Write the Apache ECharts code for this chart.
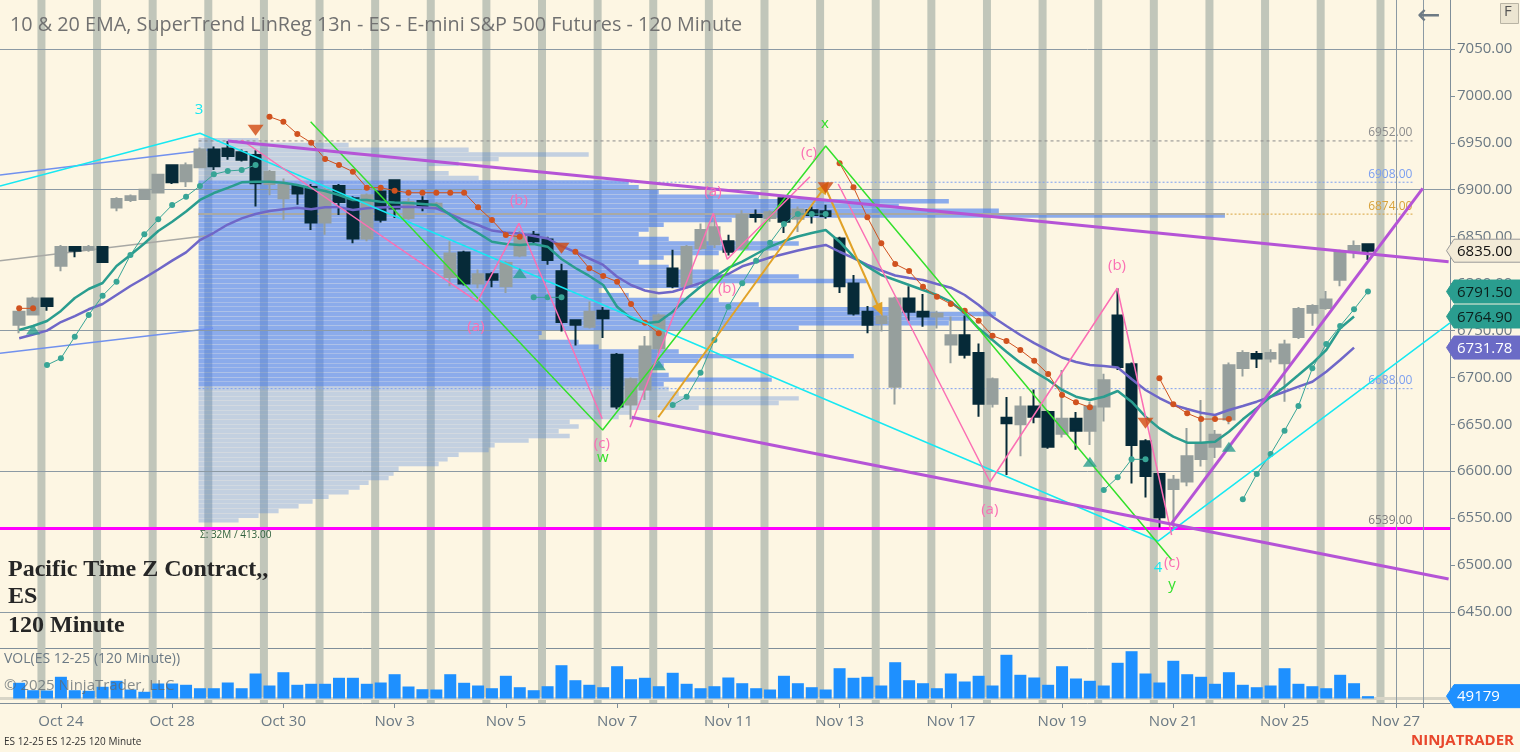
<!DOCTYPE html>
<html lang="en">
<head>
<meta charset="UTF-8">
<title>ES 12-25 120 Minute</title>
<script src="https://cdn.jsdelivr.net/npm/echarts@6.0.0/dist/echarts.min.js"></script>
<style>
  html, body { margin: 0; padding: 0; background: #fdf6e3; }
  #main { width: 1520px; height: 752px; }
</style>
</head>
<body>
<div id="main"></div>
<script>
// ---------- data (bar index k = one 120 minute bar) ----------
var dates = ['Oct 24', 'Oct 28', 'Oct 30', 'Nov 3', 'Nov 5', 'Nov 7', 'Nov 11', 'Nov 13', 'Nov 17', 'Nov 19', 'Nov 21', 'Nov 25', 'Nov 27'];
var dateTickBars = [3, 11, 19, 27, 35, 43, 51, 59, 67, 75, 83, 91, 99];
var extraTickBars = [101];
var priceTicks = [6450, 6500, 6550, 6600, 6650, 6700, 6750, 6800, 6850, 6900, 6950, 7000, 7050];
var gridLevels = [6450, 6600, 6750, 6900, 7050];
var sessionBreaks = [1.6, 5.6, 9.6, 13.6, 17.6, 21.6, 25.6, 29.6, 33.6, 37.6, 41.6, 45.6, 49.6, 53.6, 57.6, 61.6, 65.6, 69.6, 73.6, 77.6, 81.6, 85.6, 89.6, 93.6, 97.9];

var opens = [6756,6767,6784,6819,6839,6836,6839,6881,6889,6890, 6897,6926,6909,6924,6943,6944,6940,6937,6906,6891,
  6904,6903,6865,6904,6891,6848,6898,6910,6870,6888, 6880,6807,6833,6800,6810,6797,6830,6852,6847,6813,
  6761,6754,6771,6724,6671,6687,6731,6816,6797,6838, 6842,6845,6838,6873,6870,6891,6869,6878,6877,6848,
  6800,6770,6758,6690,6784,6770,6765,6735,6745,6726, 6672,6657,6650,6669,6663,6640,6656,6643,6669,6766,
  6714,6632,6597,6581,6589,6613,6626,6655,6710,6725, 6720,6715,6743,6769,6774,6804,6835,6842];
var highs = [6772,6786,6785,6841,6840,6841,6840,6892,6895,6901, 6917,6927,6929,6945,6946,6952,6943,6942,6921,6912,
  6906,6906,6902,6906,6893,6896,6900,6911,6891,6893, 6887,6845,6835,6815,6812,6824,6856,6856,6850,6821,
  6762,6781,6775,6726,6700,6744,6768,6836,6841,6864, 6873,6852,6878,6879,6878,6893,6882,6882,6884,6850,
  6809,6776,6767,6786,6797,6789,6771,6765,6766,6736, 6700,6679,6680,6687,6665,6708,6663,6674,6704,6795,
  6716,6634,6598,6596,6646,6676,6644,6716,6729,6728, 6730,6740,6775,6778,6792,6836,6846,6843];
var lows = [6747,6766,6771,6813,6828,6834,6822,6877,6887,6889, 6896,6906,6903,6923,6921,6932,6930,6882,6894,6868,
  6884,6857,6852,6873,6843,6845,6865,6870,6868,6877, 6879,6797,6798,6795,6796,6790,6828,6843,6820,6749,
  6734,6752,6742,6666,6655,6676,6726,6795,6795,6836, 6838,6830,6836,6865,6866,6854,6855,6864,6869,6790,
  6766,6747,6749,6671,6760,6754,6752,6715,6720,6658, 6668,6596,6616,6651,6624,6636,6623,6628,6653,6708,
  6587,6572,6540,6539,6584,6605,6614,6650,6701,6710, 6716,6674,6741,6755,6772,6797,6827,6825];
var closes = [6770,6784,6776,6839,6835,6839,6823,6890,6893,6900, 6916,6908,6926,6943,6925,6936,6932,6907,6919,6905,
  6896,6865,6898,6887,6848,6894,6868,6880,6887,6883, 6885,6832,6800,6810,6804,6822,6851,6845,6825,6759,
  6756,6770,6763,6669,6698,6733,6766,6797,6839,6857, 6860,6834,6873,6871,6876,6866,6879,6873,6872,6797,
  6768,6756,6765,6784,6770,6765,6768,6745,6724,6672, 6698,6651,6669,6658,6626,6656,6643,6669,6697,6711,
  6628,6595,6551,6591,6616,6630,6639,6713,6726,6720, 6726,6735,6773,6776,6783,6834,6840,6835];
var volumes = [330000,174000,168000,456000,174000,162000,246000,372000,189000,141000,
  315000,315000,288000,216000,216000,336000,216000,525000,273000,552000,
  288000,309000,309000,435000,435000,309000,336000,510000,252000,195000,
  189000,510000,330000,273000,216000,477000,237000,174000,258000,699000,
  384000,288000,237000,678000,405000,435000,258000,540000,309000,216000,
  258000,441000,321000,216000,189000,477000,321000,237000,189000,636000,
  435000,456000,273000,762000,384000,321000,216000,525000,357000,477000,
  273000,918000,498000,441000,288000,678000,420000,372000,273000,750000,
  993000,525000,336000,792000,510000,456000,309000,552000,288000,237000,
  273000,636000,309000,258000,216000,498000,321000,49179];

var ema10 = [6750.5,6754.8,6760.1,6770.8,6784.6,6794.2,6800.6,6818.7,6830.5,6842.7,
  6856.0,6865.9,6876.8,6889.1,6896.5,6901.9,6907.9,6908.6,6908.6,6907.5,
  6905.0,6901.5,6898.6,6894.4,6889.1,6889.1,6887.2,6886.4,6885.9,6884.8,
  6883.7,6873.1,6862.4,6853.9,6844.6,6842.2,6841.1,6842.2,6839.3,6826.2,
  6816.6,6808.1,6798.5,6775.3,6763.0,6757.6,6759.3,6770.0,6784.3,6796.6,
  6807.3,6816.6,6823.3,6831.5,6839.3,6845.3,6850.1,6853.9,6857.1,6844.6,
  6828.6,6818.0,6809.1,6803.8,6798.5,6793.1,6787.8,6780.7,6768.3,6752.3,
  6739.8,6727.4,6715.7,6706.1,6697.2,6686.6,6679.4,6675.9,6679.4,6685.5,
  6674.1,6658.1,6645.7,6636.8,6630.4,6630.4,6631.5,6642.1,6655.3,6667.1,
  6679.4,6690.1,6702.5,6715.0,6729.2,6752.3,6764.9];
var ema20 = [6741.7,6745.7,6749.8,6759.0,6765.4,6772.6,6778.2,6787.8,6797.4,6805.9,
  6815.0,6824.4,6833.3,6846.4,6854.1,6862.9,6869.5,6874.1,6877.3,6879.1,
  6880.8,6879.1,6881.3,6881.3,6878.4,6880.2,6881.1,6881.6,6881.9,6881.1,
  6880.2,6874.1,6867.4,6862.4,6856.5,6854.4,6853.3,6850.7,6848.0,6840.0,
  6833.6,6826.7,6819.8,6807.3,6798.5,6792.6,6789.6,6791.3,6795.8,6800.6,
  6805.4,6810.2,6818.4,6823.0,6827.8,6831.5,6835.2,6838.4,6841.1,6833.9,
  6827.2,6819.8,6813.9,6808.6,6805.9,6803.8,6799.5,6795.6,6787.8,6777.1,
  6764.7,6754.8,6745.2,6736.6,6728.7,6721.2,6716.4,6713.2,6712.1,6710.5,
  6698.3,6686.6,6678.0,6670.6,6666.3,6662.4,6659.9,6665.2,6669.5,6674.1,
  6679.4,6684.7,6690.1,6695.4,6706.1,6718.5,6731.78];

// SuperTrend: rising stops (teal) and falling stops (orange); null = not active
var stUp = [null,null,6713.2,6720.3,6743.4,6766.5,6787.1,6802.0,6830.4,6852.5,
  6868.5,6883.7,6892.6,6904.0,6916.4,6920.0,6921.0,6926.3,null,null,
  null,null,null,null,null,null,null,null,null,null,
  null,null,null,null,null,null,null,6785.3,6785.3,6785.3,
  null,null,null,null,null,null,null,6670.6,6679.4,6705.0,
  6739.8,6775.3,6800.3,6824.4,6843.5,6863.5,6874.1,6874.1,6874.1,null,
  null,null,null,null,null,null,null,null,null,null,
  null,null,null,null,null,null,null,null,6580.0,6593.5,
  6612.7,6612.7,null,null,null,null,null,null,6570.1,6597.0,
  6618.3,6643.2,6669.5,6709.7,6735.6,6754.8,6772.6,6791.5];
var stDown = [6773.6,6773.6,null,null,null,null,null,null,null,null,
  null,null,null,null,null,null,null,null,6977.8,6972.5,
  6959.4,6950.1,6932.7,6926.3,6919.2,6902.2,6902.2,6899.0,6896.8,6896.8,
  6896.8,6896.8,6896.8,6881.3,6867.7,6851.7,6849.9,null,null,null,
  6833.9,6816.2,6808.0,6802.0,6778.2,6758.3,6747.0,null,null,null,
  null,null,null,null,null,null,null,null,null,6928.2,
  6902.6,6870.6,6842.9,6820.8,6813.4,6796.6,6786.0,6778.2,6771.1,6760.4,
  6744.4,6738.8,6729.2,6717.8,6703.6,6681.2,6673.4,6668.1,null,null,
  null,null,6699.0,6671.3,6661.7,6655.6,6655.6,6655.6,null,null,
  null,null,null,null,null,null,null,null];
var signalUpBars = [1, 36, 46, 77, 87];
var signalUpPrices = [6751, 6811, 6713, 6610, 6626];
var signalDownBars = [17, 39, 58, 81];
var signalDownPrices = [6963.5, 6837.6, 6902, 6651];

// volume profile (5 point rows, contracts)
var profileLevels = [6952.5,6947.5,6942.5,6937.5,6932.5,6927.5,6922.5,6917.5,6912.5,6907.5,
  6902.5,6897.5,6892.5,6887.5,6882.5,6877.5,6872.5,6867.5,6862.5,6857.5,
  6852.5,6847.5,6842.5,6837.5,6832.5,6827.5,6822.5,6817.5,6812.5,6807.5,
  6802.5,6797.5,6792.5,6787.5,6782.5,6777.5,6772.5,6767.5,6762.5,6757.5,
  6752.5,6747.5,6742.5,6737.5,6732.5,6727.5,6722.5,6717.5,6712.5,6707.5,
  6702.5,6697.5,6692.5,6687.5,6682.5,6677.5,6672.5,6667.5,6662.5,6657.5,
  6652.5,6647.5,6642.5,6637.5,6632.5,6627.5,6622.5,6617.5,6612.5,6607.5,
  6602.5,6597.5,6592.5,6587.5,6582.5,6577.5,6572.5,6567.5,6562.5,6557.5,
  6552.5,6547.5];
var profileVolumes = [60000,150000,270000,390000,300000,260000,230000,250000,280000,430000,
  440000,460000,560000,750000,700000,800000,1026000,533000,465000,450000,
  440000,470000,600000,580000,520000,465000,440000,470000,520000,600000,
  668000,500000,400000,430000,520000,560000,700000,797000,770000,750000,
  600000,343000,340000,380000,400000,480000,655000,500000,465000,440000,
  470000,573000,465000,470000,480000,600000,580000,500000,432000,420000,
  371000,380000,360000,371000,330000,296000,290000,260000,249000,240000,
  200000,195000,190000,170000,161000,150000,130000,114000,100000,80000,
  60000,40000];
var profileStart = 12.9;
var levelEnd = 100.2;
var profileHigh = 6952, valueAreaHigh = 6908, pocPrice = 6874, valueAreaLow = 6688, sessionLow = 6539;

// drawing objects (bar index, price)
var cyanWave = [[-1.38, 6904], [13.0, 6960.2], [81.9, 6525.6], [102.9, 6758]];
var greenWave = [[20.96, 6972.5], [41.96, 6644], [58.0, 6946.6], [82.9, 6505.4]];
var pinkWave1 = [[16.0, 6953], [32.95, 6780.7], [35.94, 6864.2], [41.93, 6656]];
var pinkWave2 = [[43.93, 6646.8], [49.92, 6874.9], [50.92, 6825.9], [56.87, 6913.9]];
var pinkWave3 = [[58.9, 6906.1], [69.82, 6588.5], [78.97, 6795], [82.88, 6532]];
var channelUpper = [[15, 6952], [102.8, 6823.3]];
var channelLower = [[44.05, 6657.5], [102.8, 6485.2]];
var channelRise = [[82.88, 6544.5], [100.94, 6901.5]];
var regUpper = [[-1.38, 6915.7], [13.94, 6943.1]];
var regMid = [[-1.38, 6824.4], [13.94, 6851.8]];
var regLower = [[-1.38, 6725.7], [13.94, 6752.3]];
var fibUp = [[45.96, 6657.5], [57.95, 6903.2]];
var fibDown = [[57.95, 6903.2], [61.9, 6771.8]];

var impulseLabels = ['3', '4'], impulseBars = [12.93, 81.9], impulsePrices = [6985, 6497];
var wxyLabels = ['w', 'x', 'y'], wxyBars = [41.98, 57.95, 82.9], wxyPrices = [6614, 6970, 6479];
var abcLabels = ['(a)', '(b)', '(c)', '(a)', '(b)', '(c)', '(a)', '(b)', '(c)'];
var abcBars = [32.85, 35.94, 41.9, 49.9, 50.9, 56.8, 69.8, 78.95, 82.9];
var abcPrices = [6754, 6888, 6629, 6898, 6795, 6939, 6559, 6819, 6502];

var flagPrices = [6835, 6791.5, 6764.9, 6731.78];
var lastVolume = 49179;

// ---------- layout / style ----------
var xMin = -1.38, xMax = 102.9;
var yMin = 6411.6, yMax = 7102.2;
var vMin = -94500, vMax = 1060500;
var FONT = '"Open Sans", "Liberation Sans", sans-serif';
var SERIF = 'bold 24px "Liberation Serif", serif';
var axisColor = '#7f8e99', labelColor = '#6b7984', gridColor = '#8c9aa4';
var bandColor = '#c1c6ba', bandPx = 8;
var upColor = '#969f9d', downColor = '#062a38';
var profileStep = 5, profilePerBar = 13900;

var myChart = echarts.init(document.getElementById('main'));

var candles = [];
for (var i = 0; i < opens.length; i++) candles.push([i, opens[i], closes[i], lows[i], highs[i]]);
function seq(arr) {
  return arr.map(function (v, k) { return [k, v == null ? '-' : v]; });
}
function pts(bars, prices) {
  return bars.map(function (k, j) { return [k, prices[j]]; });
}

function renderBand(params, api) {
  var x = api.coord([api.value(0), api.value(1)])[0];
  var cs = params.coordSys;
  return { type: 'rect', shape: { x: x - bandPx / 2, y: cs.y, width: bandPx, height: cs.height }, style: { fill: bandColor } };
}

function renderProfile(params, api) {
  var lv = api.value(1), vol = api.value(2);
  var a = api.coord([profileStart, lv + profileStep / 2]);
  var b = api.coord([profileStart + vol / profilePerBar, lv - profileStep / 2]);
  var inVA = lv >= valueAreaLow && lv <= valueAreaHigh;
  return {
    type: 'rect',
    shape: { x: a[0], y: a[1], width: b[0] - a[0], height: b[1] - a[1] - 0.25 },
    style: { fill: inVA ? 'rgba(70,125,240,0.62)' : 'rgba(80,130,220,0.33)' }
  };
}

var levelColors = ['#8c8c8c', '#7c9ff0', '#d8a23c', '#7c9ff0', '#7d7d7d'];
var levelDash = [[3, 3], [2, 2], [2, 2], [2, 2], null];
function renderLevel(params, api) {
  var i = params.dataIndex, lv = api.value(1);
  var a = api.coord([profileStart, lv]);
  var b = api.coord([levelEnd, lv]);
  var kids = [];
  if (levelDash[i]) {
    kids.push({ type: 'line', shape: { x1: a[0], y1: a[1], x2: b[0], y2: b[1] }, style: { stroke: levelColors[i], lineWidth: 1, lineDash: levelDash[i] } });
  }
  if (lv === pocPrice) {
    var maxVol = Math.max.apply(null, profileVolumes);
    var c = api.coord([profileStart + maxVol / profilePerBar, lv]);
    kids.push({ type: 'line', shape: { x1: a[0], y1: a[1], x2: c[0], y2: c[1] }, style: { stroke: '#a9a9a3', lineWidth: 2 } });
  }
  kids.push({ type: 'text', style: { text: lv.toFixed(2), x: b[0], y: b[1] - 2, fill: levelColors[i], font: '12px ' + FONT, align: 'right', verticalAlign: 'bottom' } });
  return { type: 'group', children: kids };
}

function makeTextRenderer(labels, color) {
  return function (params, api) {
    var p = api.coord([api.value(0), api.value(1)]);
    return { type: 'text', style: { text: labels[params.dataIndex], x: p[0], y: p[1], fill: color, font: '15px ' + FONT, align: 'center', verticalAlign: 'middle' } };
  };
}

function makeFlagRenderer(labels, fills, inks, strokes) {
  return function (params, api) {
    var i = params.dataIndex;
    var y = api.coord([api.value(0), api.value(1)])[1];
    var x = params.coordSys.x + params.coordSys.width;
    return {
      type: 'group',
      children: [
        { type: 'polygon', shape: { points: [[x - 3.5, y], [x + 4, y - 11.5], [x + 72, y - 11.5], [x + 72, y + 11.5], [x + 4, y + 11.5]] },
          style: { fill: fills[i], stroke: strokes[i], lineWidth: 1 } },
        { type: 'text', style: { text: labels[i], x: x + 7, y: y + 1, fill: inks[i], font: '15px ' + FONT, align: 'left', verticalAlign: 'middle' } }
      ]
    };
  };
}

function trend(data, color, width, extra) {
  var s = { type: 'line', xAxisIndex: 0, yAxisIndex: 0, data: data, symbol: 'none', silent: true, z: 7,
    lineStyle: { color: color, width: width }, animation: false };
  if (extra) for (var key in extra) s[key] = extra[key];
  return s;
}
function arrowData(seg, rot) {
  return [{ value: seg[0], symbol: 'none' }, { value: seg[1], symbol: 'triangle', symbolSize: [11, 13], symbolRotate: rot }];
}

var option = {
  animation: false,
  backgroundColor: '#fdf6e3',
  textStyle: { fontFamily: FONT },
  grid: [
    { left: 0, right: 70, top: 0, height: 648 },
    { left: 0, right: 70, top: 648, height: 55 }
  ],
  xAxis: [
    { type: 'value', gridIndex: 0, min: xMin, max: xMax,
      axisLine: { show: true, onZero: false, lineStyle: { color: axisColor } },
      axisTick: { show: false }, axisLabel: { show: false }, splitLine: { show: false } },
    { type: 'value', gridIndex: 1, min: xMin, max: xMax,
      axisLine: { show: true, onZero: false, lineStyle: { color: axisColor } },
      axisTick: { show: true, length: 5, customValues: dateTickBars.concat(extraTickBars), lineStyle: { color: axisColor } },
      axisLabel: { customValues: dateTickBars, color: labelColor, fontSize: 15, margin: 11,
        formatter: function (v) { var i = dateTickBars.indexOf(Math.round(v)); return i < 0 ? '' : dates[i]; } },
      splitLine: { show: false } }
  ],
  yAxis: [
    { type: 'value', gridIndex: 0, position: 'right', min: yMin, max: yMax,
      axisLine: { show: true, onZero: false, lineStyle: { color: axisColor } },
      axisTick: { show: true, length: 5, customValues: priceTicks, lineStyle: { color: axisColor } },
      axisLabel: { customValues: priceTicks, color: labelColor, fontSize: 15, margin: 7,
        formatter: function (v) { return v.toFixed(2); } },
      splitLine: { show: false } },
    { type: 'value', gridIndex: 1, position: 'right', min: vMin, max: vMax,
      axisLine: { show: true, onZero: false, lineStyle: { color: axisColor } },
      axisTick: { show: false }, axisLabel: { show: false }, splitLine: { show: false } }
  ],
  series: [
    { type: 'custom', xAxisIndex: 0, yAxisIndex: 0, z: 1, silent: true, renderItem: renderBand,
      data: sessionBreaks.map(function (k) { return [k, yMax]; }),
      markLine: { silent: true, symbol: ['none', 'none'], label: { show: false },
        lineStyle: { color: gridColor, width: 1, type: 'solid' },
        data: gridLevels.map(function (v) { return { yAxis: v }; })
          .concat([{ xAxis: dateTickBars[dateTickBars.length - 1] }, { xAxis: extraTickBars[0] }]) } },
    { type: 'custom', xAxisIndex: 1, yAxisIndex: 1, z: 1, silent: true, renderItem: renderBand,
      data: sessionBreaks.map(function (k) { return [k, 0]; }),
      markLine: { silent: true, symbol: ['none', 'none'], label: { show: false },
        data: [{ yAxis: 0, lineStyle: { color: '#d8d5c7', width: 3, type: 'solid' } },
          { xAxis: dateTickBars[dateTickBars.length - 1], lineStyle: { color: gridColor, width: 1, type: 'solid' } },
          { xAxis: extraTickBars[0], lineStyle: { color: gridColor, width: 1, type: 'solid' } }] } },
    { type: 'custom', xAxisIndex: 0, yAxisIndex: 0, z: 2, silent: true, renderItem: renderProfile,
      encode: { x: 0, y: 1 },
      data: profileLevels.map(function (lv, j) { return [profileStart, lv, profileVolumes[j]]; }) },
    { type: 'custom', xAxisIndex: 0, yAxisIndex: 0, z: 3, silent: true, renderItem: renderLevel,
      encode: { x: 0, y: 1 },
      data: [profileHigh, valueAreaHigh, pocPrice, valueAreaLow, sessionLow].map(function (v) { return [profileStart, v]; }) },
    trend([[xMin, sessionLow], [xMax, sessionLow]], '#ff00ff', 3, { z: 3 }),
    trend(regUpper, '#7191ee', 1.5, { z: 4 }),
    trend(regMid, '#a8a8a4', 1.5, { z: 4 }),
    trend(regLower, '#7191ee', 1.5, { z: 4 }),
    { type: 'candlestick', xAxisIndex: 0, yAxisIndex: 0, z: 5, barWidth: 11, data: candles,
      itemStyle: { color: upColor, color0: downColor, borderColor: upColor, borderColor0: downColor, borderWidth: 2 } },
    { type: 'bar', xAxisIndex: 1, yAxisIndex: 1, z: 5, barWidth: 12, data: seq(volumes),
      itemStyle: { color: '#1e90ff' } },
    trend(seq(ema20), '#6f67c8', 2.5, { z: 6 }),
    trend(seq(ema10), '#2a9d8f', 2.5, { z: 6 }),
    trend(seq(stUp), '#38a596', 1, { z: 6, symbol: 'circle', symbolSize: 6, showSymbol: true, showAllSymbol: true, itemStyle: { color: '#38a596' } }),
    trend(seq(stDown), '#d0521f', 1, { z: 6, symbol: 'circle', symbolSize: 6, showSymbol: true, showAllSymbol: true, itemStyle: { color: '#d0521f' } }),
    trend(cyanWave, '#17e8f2', 1.5),
    trend(greenWave, '#34e02c', 1.5),
    trend(pinkWave1, '#fb6fb4', 1.5),
    trend(pinkWave2, '#fb6fb4', 1.5),
    trend(pinkWave3, '#fb6fb4', 1.5),
    trend(arrowData(fibUp, -36), '#e1a227', 2, { showSymbol: true, itemStyle: { color: '#e1a227' } }),
    trend(arrowData(fibDown, -156), '#e1a227', 2, { showSymbol: true, itemStyle: { color: '#e1a227' } }),
    trend(channelUpper, '#b554d6', 3),
    trend(channelLower, '#b554d6', 3),
    trend(channelRise, '#b554d6', 3),
    { type: 'scatter', xAxisIndex: 0, yAxisIndex: 0, z: 8, silent: true, symbol: 'triangle', symbolSize: [14, 10],
      itemStyle: { color: '#2a9d8f' }, data: pts(signalUpBars, signalUpPrices) },
    { type: 'scatter', xAxisIndex: 0, yAxisIndex: 0, z: 8, silent: true, symbol: 'triangle', symbolRotate: 180, symbolSize: [16, 11],
      itemStyle: { color: '#d14a10' }, data: pts(signalDownBars, signalDownPrices) },
    { type: 'custom', xAxisIndex: 0, yAxisIndex: 0, z: 9, silent: true, renderItem: makeTextRenderer(impulseLabels, '#17e8f2'),
      data: pts(impulseBars, impulsePrices) },
    { type: 'custom', xAxisIndex: 0, yAxisIndex: 0, z: 9, silent: true, renderItem: makeTextRenderer(wxyLabels, '#34e02c'),
      data: pts(wxyBars, wxyPrices) },
    { type: 'custom', xAxisIndex: 0, yAxisIndex: 0, z: 9, silent: true, renderItem: makeTextRenderer(abcLabels, '#fb6fb4'),
      data: pts(abcBars, abcPrices) },
    { type: 'custom', xAxisIndex: 0, yAxisIndex: 0, z: 20, silent: true,
      renderItem: makeFlagRenderer(flagPrices.map(function (v) { return v.toFixed(2); }),
        ['#f3ebd7', '#2a9d8f', '#2a9d8f', '#6b6bc6'], ['#111111', '#0b1f1c', '#0b1f1c', '#ffffff'],
        ['#9a9a9a', '#2a9d8f', '#2a9d8f', '#6b6bc6']),
      data: flagPrices.map(function (v) { return [xMax, v]; }) },
    { type: 'custom', xAxisIndex: 1, yAxisIndex: 1, z: 20, silent: true,
      renderItem: makeFlagRenderer([String(lastVolume)], ['#1e90ff'], ['#ffffff'], ['#1e90ff']),
      data: [[xMax, lastVolume]] }
  ],
  graphic: [
    { type: 'text', left: 10, top: 15, z: 30, style: { text: '10 & 20 EMA, SuperTrend LinReg 13n - ES - E-mini S&P 500 Futures - 120 Minute', fill: '#717171', font: '19.8px ' + FONT } },
    { type: 'text', left: 1417, top: 3, z: 30, style: { text: '\u2190', fill: '#6d7a84', font: '28px "DejaVu Sans", sans-serif' } },
    { type: 'rect', left: 1500, top: 3, z: 30, shape: { width: 18, height: 20 }, style: { fill: '#ece5d1', stroke: '#b9b4a4' } },
    { type: 'text', left: 1504, top: 4, z: 31, style: { text: 'F', fill: '#555', font: '15px ' + FONT } },
    { type: 'text', left: 200, top: 530, z: 30, style: { text: '\u03a3: 32M / 413.00', fill: '#2f5f3c', font: '10px ' + FONT } },
    { type: 'text', left: 8, top: 558, z: 30, style: { text: 'Pacific Time Z Contract,,', fill: '#262626', font: SERIF } },
    { type: 'text', left: 8, top: 585, z: 30, style: { text: 'ES', fill: '#262626', font: SERIF } },
    { type: 'text', left: 8, top: 614, z: 30, style: { text: '120 Minute', fill: '#262626', font: SERIF } },
    { type: 'text', left: 4, top: 652, z: 30, style: { text: 'VOL(ES 12-25 (120 Minute))', fill: '#6b7984', font: '14px ' + FONT } },
    { type: 'text', left: 4, top: 678, z: 30, style: { text: '\u00a9 2025 NinjaTrader, LLC', fill: 'rgba(95,105,112,0.75)', font: '15px ' + FONT } },
    { type: 'text', left: 4, top: 737, z: 30, style: { text: 'ES 12-25 ES 12-25 120 Minute', fill: '#333', font: '10px ' + FONT } },
    { type: 'text', right: 6, top: 733, z: 30, style: { text: 'NINJATRADER', fill: '#e8472c', font: 'bold 15px ' + FONT } }
  ]
};

myChart.setOption(option);
</script>
</body>
</html>
